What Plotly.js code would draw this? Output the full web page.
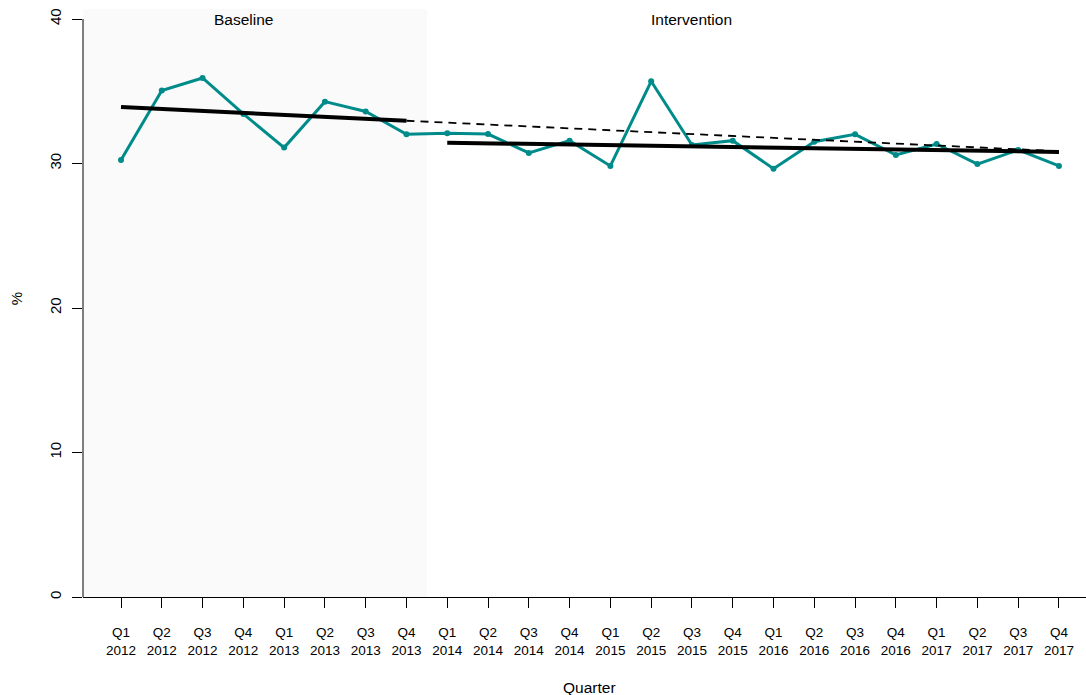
<!DOCTYPE html>
<html>
<head>
<meta charset="utf-8">
<script src="https://cdn.plot.ly/plotly-3.0.1.min.js"></script>
<style>html,body{margin:0;padding:0;background:#fff;}#chart{width:1086px;height:695px;}</style>
</head>
<body>
<div id="chart"></div>
<script>
// Categories (quarters)
var quarters = ["Q1 2012","Q2 2012","Q3 2012","Q4 2012","Q1 2013","Q2 2013","Q3 2013","Q4 2013",
                "Q1 2014","Q2 2014","Q3 2014","Q4 2014","Q1 2015","Q2 2015","Q3 2015","Q4 2015",
                "Q1 2016","Q2 2016","Q3 2016","Q4 2016","Q1 2017","Q2 2017","Q3 2017","Q4 2017"];
// Observed percentage per quarter
var percent = [30.24, 35.05, 35.92, 33.43, 31.10, 34.28, 33.60, 32.02,
               32.09, 32.04, 30.73, 31.58, 29.83, 35.69, 31.28, 31.58,
               29.64, 31.51, 32.02, 30.59, 31.35, 29.96, 30.94, 29.83];
// Fitted trend lines (end points)
var baselineTrendX = ["Q1 2012", "Q4 2013"];
var baselineTrendY = [33.91, 32.96];
var counterfactualX = ["Q4 2013", "Q4 2017"];
var counterfactualY = [32.96, 30.85];
var interventionTrendX = ["Q1 2014", "Q4 2017"];
var interventionTrendY = [31.44, 30.80];
var yTicks = [0, 10, 20, 30, 40];

var tickText = quarters.map(function(q){ return q.replace(" ", "<br>"); });
var FONT = "Liberation Sans, Arial, Helvetica, sans-serif";

var traces = [
  {x: quarters, y: percent, type: "scatter", mode: "lines+markers",
   line: {color: "#008B8B", width: 3}, marker: {color: "#008B8B", size: 6},
   name: "Observed", hoverinfo: "x+y"},
  {x: baselineTrendX, y: baselineTrendY, type: "scatter", mode: "lines",
   line: {color: "#000000", width: 4}, name: "Baseline trend"},
  {x: counterfactualX, y: counterfactualY, type: "scatter", mode: "lines",
   line: {color: "#000000", width: 1.8, dash: "8px,6px"}, name: "Projected baseline"},
  {x: interventionTrendX, y: interventionTrendY, type: "scatter", mode: "lines",
   line: {color: "#000000", width: 4}, name: "Intervention trend"}
];

var layout = {
  width: 1086, height: 695,
  margin: {l: 83, r: 0, t: 0, b: 98, pad: 0},
  paper_bgcolor: "#ffffff", plot_bgcolor: "#ffffff",
  showlegend: false,
  font: {family: FONT, color: "#000000", size: 13.5},
  xaxis: {
    type: "category", categoryorder: "array", categoryarray: quarters,
    range: [-0.932, 23.663], fixedrange: true,
    tickmode: "array", tickvals: quarters, ticktext: tickText,
    ticks: "outside", ticklen: 10, tickwidth: 1, tickcolor: "#000",
    showline: true, linecolor: "#000", linewidth: 1,
    showgrid: false, zeroline: false,
    tickfont: {family: FONT, size: 13.5, color: "#000"},
    ticklabelstandoff: 13
  },
  yaxis: {
    range: [0, 41.315], fixedrange: true,
    tickmode: "array", tickvals: yTicks, ticktext: yTicks.map(String),
    ticks: "outside", ticklen: 10, tickwidth: 1, tickcolor: "#000",
    tickangle: -90,
    showline: false, showgrid: false, zeroline: false,
    tickfont: {family: FONT, size: 15, color: "#000"},
    ticklabelstandoff: 5,
    title: {text: "%", font: {family: FONT, size: 15, color: "#000"}, standoff: 20},
    automargin: false
  },
  shapes: [
    {type: "rect", layer: "below", xref: "x", yref: "y", x0: -1, x1: 7.5, y0: 0, y1: 40.69,
     fillcolor: "#fafafa", line: {width: 0}},
    {type: "line", layer: "above", xref: "paper", yref: "y", x0: 0, x1: 0, y0: 0, y1: 40,
     line: {color: "#000", width: 1}}
  ],
  annotations: [
    {text: "Baseline", xref: "x", yref: "y", x: 3, y: 40, showarrow: false,
     xanchor: "center", yanchor: "middle", font: {family: FONT, size: 15.5, color: "#000"}},
    {text: "Intervention", xref: "x", yref: "y", x: 14, y: 40, showarrow: false,
     xanchor: "center", yanchor: "middle", font: {family: FONT, size: 15.5, color: "#000"}},
    {text: "Quarter", xref: "x", yref: "paper", x: 11.5, y: -0.1515, showarrow: false,
     xanchor: "center", yanchor: "middle", font: {family: FONT, size: 15.5, color: "#000"}}
  ]
};

Plotly.newPlot("chart", traces, layout, {displayModeBar: false, staticPlot: true});
</script>
</body>
</html>
